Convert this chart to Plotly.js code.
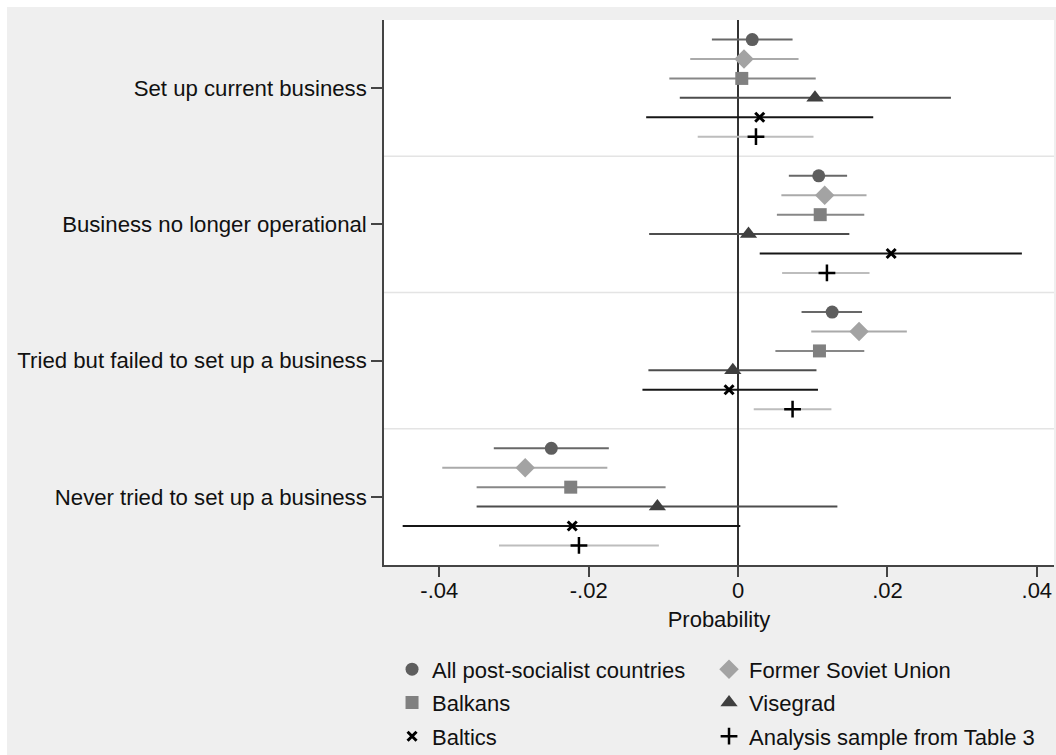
<!DOCTYPE html>
<html>
<head>
<meta charset="utf-8">
<script src="https://cdn.plot.ly/plotly-3.0.1.min.js"></script>
<style>
  html, body { margin: 0; padding: 0; background: #ffffff; }
  #chart { position: absolute; left: 7px; top: 7px; width: 1049px; height: 748px; }
</style>
</head>
<body>
<div id="chart"></div>
<script>
// Outcome categories, top to bottom
const categories = [
  "Set up current business",
  "Business no longer operational",
  "Tried but failed to set up a business",
  "Never tried to set up a business"
];

// Point estimates with lower / upper confidence bounds, one value per category
const allPt  = [0.0019, 0.0108, 0.0126, -0.0250];
const allLo  = [-0.0035, 0.0068, 0.0085, -0.0327];
const allHi  = [0.0073, 0.0146, 0.0166, -0.0173];

const fsuPt  = [0.0008, 0.0116, 0.0162, -0.0285];
const fsuLo  = [-0.0064, 0.0058, 0.0098, -0.0396];
const fsuHi  = [0.0081, 0.0172, 0.0226, -0.0175];

const balkPt = [0.0005, 0.0110, 0.0109, -0.0224];
const balkLo = [-0.0092, 0.0052, 0.0050, -0.0350];
const balkHi = [0.0104, 0.0169, 0.0169, -0.0097];

const visPt  = [0.0103, 0.0014, -0.0007, -0.0108];
const visLo  = [-0.0078, -0.0119, -0.0120, -0.0350];
const visHi  = [0.0285, 0.0149, 0.0105, 0.0133];

const baltPt = [0.0029, 0.0205, -0.0012, -0.0222];
const baltLo = [-0.0123, 0.0029, -0.0128, -0.0449];
const baltHi = [0.0181, 0.0380, 0.0107, 0.0003];

const anaPt  = [0.0024, 0.0119, 0.0073, -0.0213];
const anaLo  = [-0.0054, 0.0059, 0.0021, -0.0320];
const anaHi  = [0.0101, 0.0176, 0.0125, -0.0106];

const seriesNames = [
  "All post-socialist countries",
  "Former Soviet Union",
  "Balkans",
  "Visegrad",
  "Baltics",
  "Analysis sample from Table 3"
];

// x-axis ticks
const xTickVals = [-0.04, -0.02, 0, 0.02, 0.04];
const xTickText = ["-.04", "-.02", "0", ".02", ".04"];

const FONT = "Liberation Sans, Arial, Helvetica, sans-serif";
const STEP = 0.1425; // vertical spacing between series inside a category band

const seriesData = [
  { pt: allPt,  lo: allLo,  hi: allHi },
  { pt: fsuPt,  lo: fsuLo,  hi: fsuHi },
  { pt: balkPt, lo: balkLo, hi: balkHi },
  { pt: visPt,  lo: visLo,  hi: visHi },
  { pt: baltPt, lo: baltLo, hi: baltHi },
  { pt: anaPt,  lo: anaLo,  hi: anaHi }
];

const styles = [
  { symbol: "circle",          size: 13, color: "#5e5e5e", line: "#686868", lw: 0 },
  { symbol: "diamond",         size: 15, color: "#a3a3a3", line: "#aaaaaa", lw: 0 },
  { symbol: "square",          size: 13, color: "#808080", line: "#878787", lw: 0 },
  { symbol: "triangle-up",     size: 15, color: "#3f3f3f", line: "#4d4d4d", lw: 0 },
  { symbol: "x-thin-open",     size: 9,  color: "#000000", line: "#161616", lw: 3 },
  { symbol: "cross-thin-open", size: 12, color: "#000000", line: "#bdbdbd", lw: 2.5 }
];

// one legend box per entry: two columns, three rows
const legendIds = ["legend", "legend2", "legend3", "legend4", "legend5", "legend6"];
const legendCols = [0.012, 0.4851];
const legendRows = [-0.1915, -0.2525, -0.3145];

const traces = seriesData.map((s, i) => {
  const st = styles[i];
  const ys = categories.map((c, k) => (categories.length - k) + (2.5 - i) * STEP);
  return {
    type: "scatter",
    mode: "markers",
    name: seriesNames[i],
    legend: legendIds[i],
    x: s.pt,
    y: ys,
    error_x: {
      type: "data",
      symmetric: false,
      array: s.pt.map((p, k) => s.hi[k] - p),
      arrayminus: s.pt.map((p, k) => p - s.lo[k]),
      color: st.line,
      thickness: 2,
      width: 0
    },
    marker: {
      symbol: st.symbol,
      size: st.size,
      color: st.color,
      line: { color: st.color, width: st.lw }
    },
    hoverinfo: "x+name"
  };
});

// light separators between category bands
const bandEdges = [1.5, 2.5, 3.5];
const shapes = bandEdges.map(y => ({
  type: "line", xref: "paper", x0: 0, x1: 1, yref: "y", y0: y, y1: y,
  line: { color: "#e4e4e4", width: 1.5 }, layer: "below"
}));

const legendBase = {
  orientation: "h",
  xanchor: "left",
  yanchor: "middle",
  bgcolor: "rgba(0,0,0,0)",
  borderwidth: 0,
  font: { family: FONT, size: 22, color: "#111111" },
  itemclick: false,
  itemdoubleclick: false
};

const layout = {
  width: 1049,
  height: 748,
  paper_bgcolor: "#efefef",
  plot_bgcolor: "#ffffff",
  margin: { l: 377, r: 2, t: 13, b: 190, autoexpand: false },
  font: { family: FONT, size: 22, color: "#111111" },
  xaxis: {
    range: [-0.0474, 0.0423],
    tickvals: xTickVals,
    ticktext: xTickText,
    ticks: "outside",
    ticklen: 10,
    tickwidth: 1.5,
    tickcolor: "#444444",
    ticklabelstandoff: -5,
    showline: true,
    linecolor: "#444444",
    linewidth: 1.5,
    showgrid: false,
    zeroline: true,
    zerolinecolor: "#333333",
    zerolinewidth: 2,
    tickfont: { family: FONT, size: 22, color: "#111111" },
    title: { text: "Probability", font: { family: FONT, size: 22, color: "#111111" }, standoff: 9 },
    fixedrange: true
  },
  yaxis: {
    range: [0.5, 4.5],
    tickvals: categories.map((c, k) => categories.length - k),
    ticktext: categories,
    ticks: "outside",
    ticklen: 11,
    tickwidth: 1.5,
    tickcolor: "#444444",
    showline: true,
    linecolor: "#444444",
    linewidth: 1.5,
    showgrid: false,
    zeroline: false,
    tickfont: { family: FONT, size: 22.2, color: "#111111" },
    fixedrange: true
  },
  shapes: shapes,
  showlegend: true
};

legendIds.forEach((id, i) => {
  layout[id] = Object.assign({}, legendBase, {
    x: legendCols[i % 2],
    y: legendRows[Math.floor(i / 2)]
  });
});

Plotly.newPlot("chart", traces, layout, { displayModeBar: false });
</script>
</body>
</html>
